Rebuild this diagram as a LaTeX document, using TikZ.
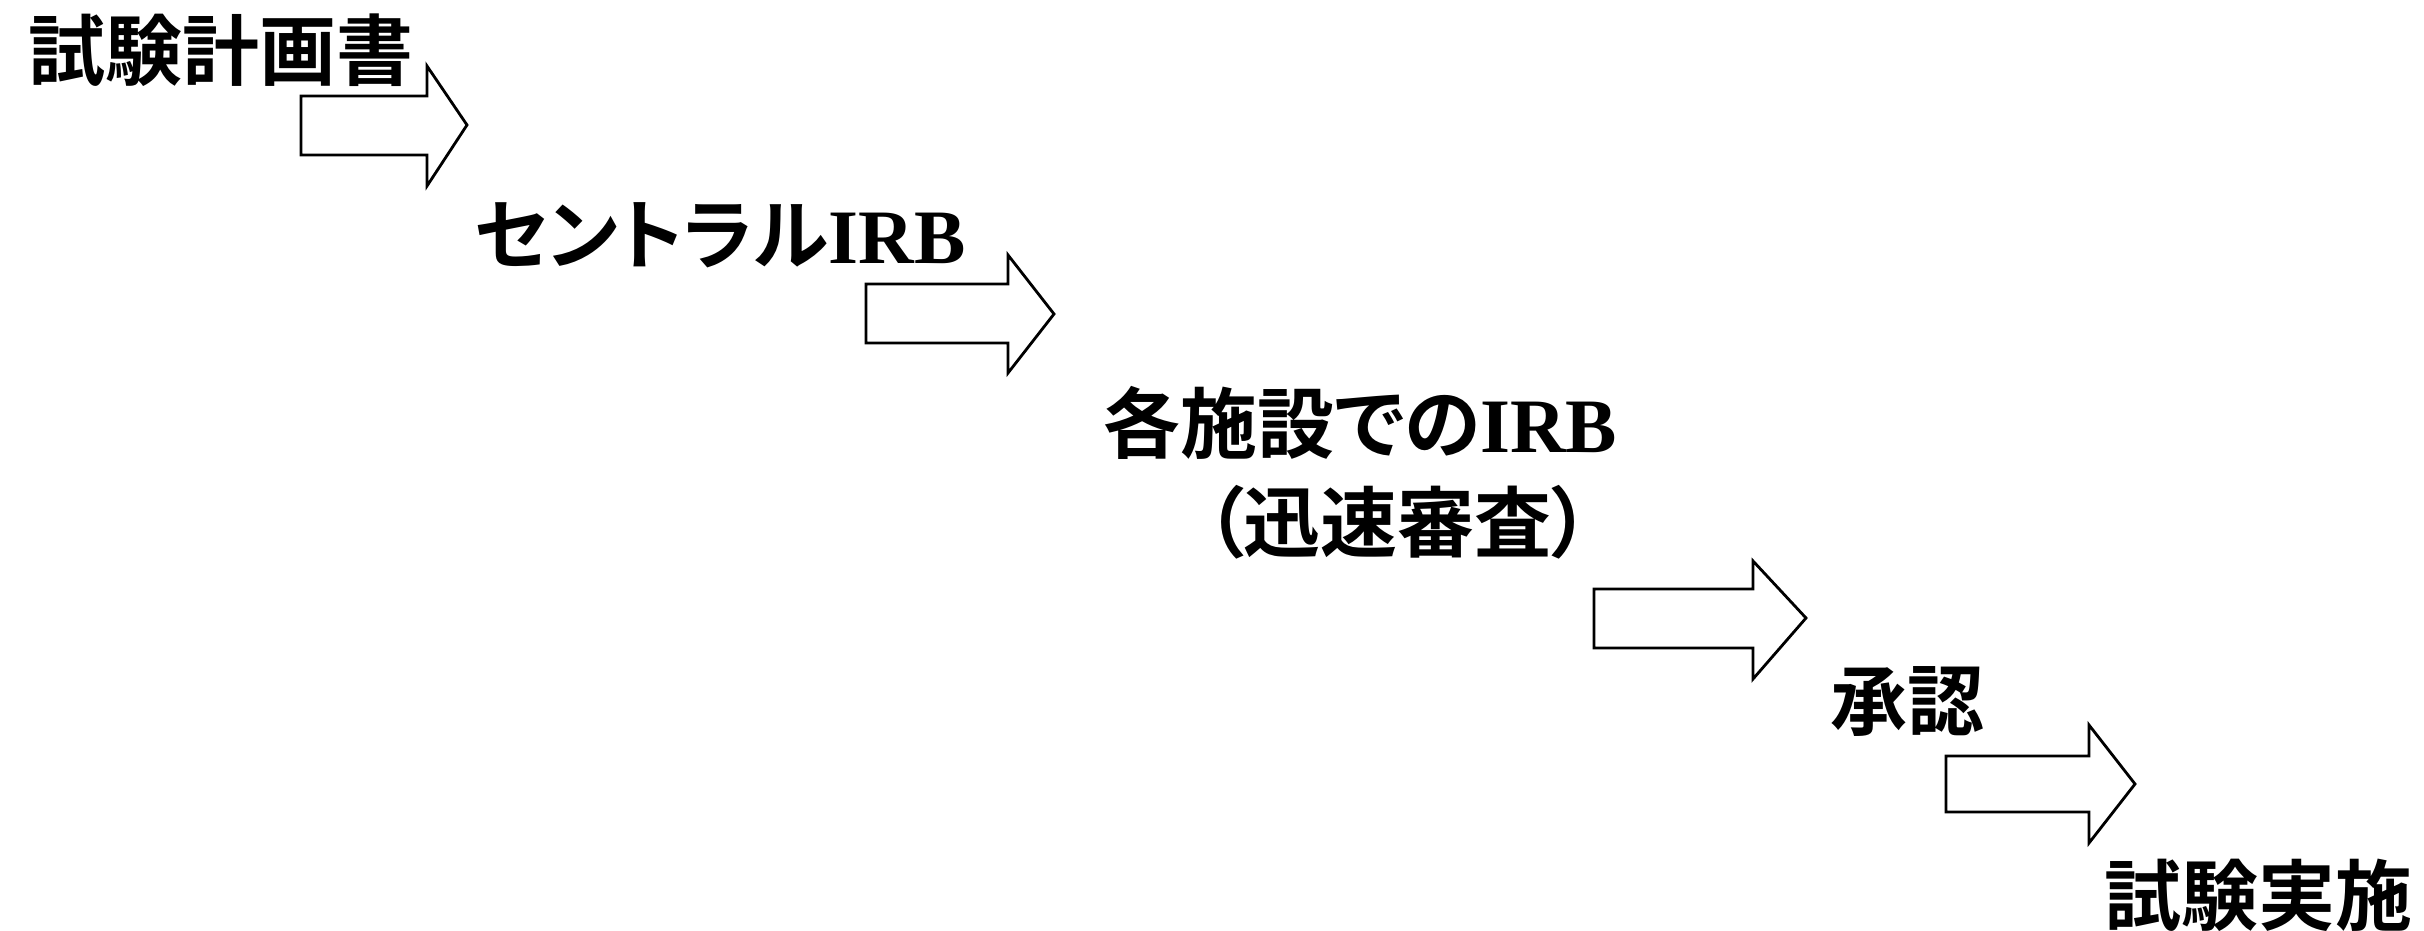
\documentclass[tikz,border=0pt]{standalone}
\usepackage{fontspec}
\newfontfamily\jpfont[RawFeature=+palt]{Noto Sans CJK JP Bold}
\newfontfamily\latfont[UprightFont={* Bold}]{Liberation Serif}
\newcommand\irbtext{{\latfont IRB}}
\tikzset{
  lbl/.style={anchor=west, inner sep=0pt, font=\jpfont\fontsize{38.5pt}{46pt}\selectfont, text=black},
  blockarrow/.style={draw=black, line width=1.4pt, fill=white, line join=miter}
}
\begin{document}
\begin{tikzpicture}[x=0.5pt, y=-0.5pt]
\useasboundingbox (0,0) rectangle (2424,931);
% text nodes
\node[lbl] (plan) at (28,50) {試験計画書};
\node[lbl] (central) at (474,235) {セントラル\irbtext};
\node[lbl] (site) at (1103,423) {各施設での\irbtext};
\node[lbl] (rapid) at (1205,522) {（迅速審査）};
\node[lbl] (approve) at (1830,702) {承認};
\node[lbl] (start) at (2104,895) {試験実施};
% block arrows
\coordinate (a1) at (301,96);
\draw[blockarrow] (a1) -- (427,96) -- (427,66) -- (467,125) -- (427,186) -- (427,155) -- (301,155) -- cycle;
\coordinate (a2) at (866,284);
\draw[blockarrow] (a2) -- (1008,284) -- (1008,255) -- (1054,314) -- (1008,373) -- (1008,343) -- (866,343) -- cycle;
\coordinate (a3) at (1594,589);
\draw[blockarrow] (a3) -- (1753,589) -- (1753,561) -- (1806,618) -- (1753,679) -- (1753,648) -- (1594,648) -- cycle;
\coordinate (a4) at (1946,756);
\draw[blockarrow] (a4) -- (2089,756) -- (2089,725) -- (2135,784) -- (2089,843) -- (2089,812) -- (1946,812) -- cycle;
\end{tikzpicture}
\end{document}
